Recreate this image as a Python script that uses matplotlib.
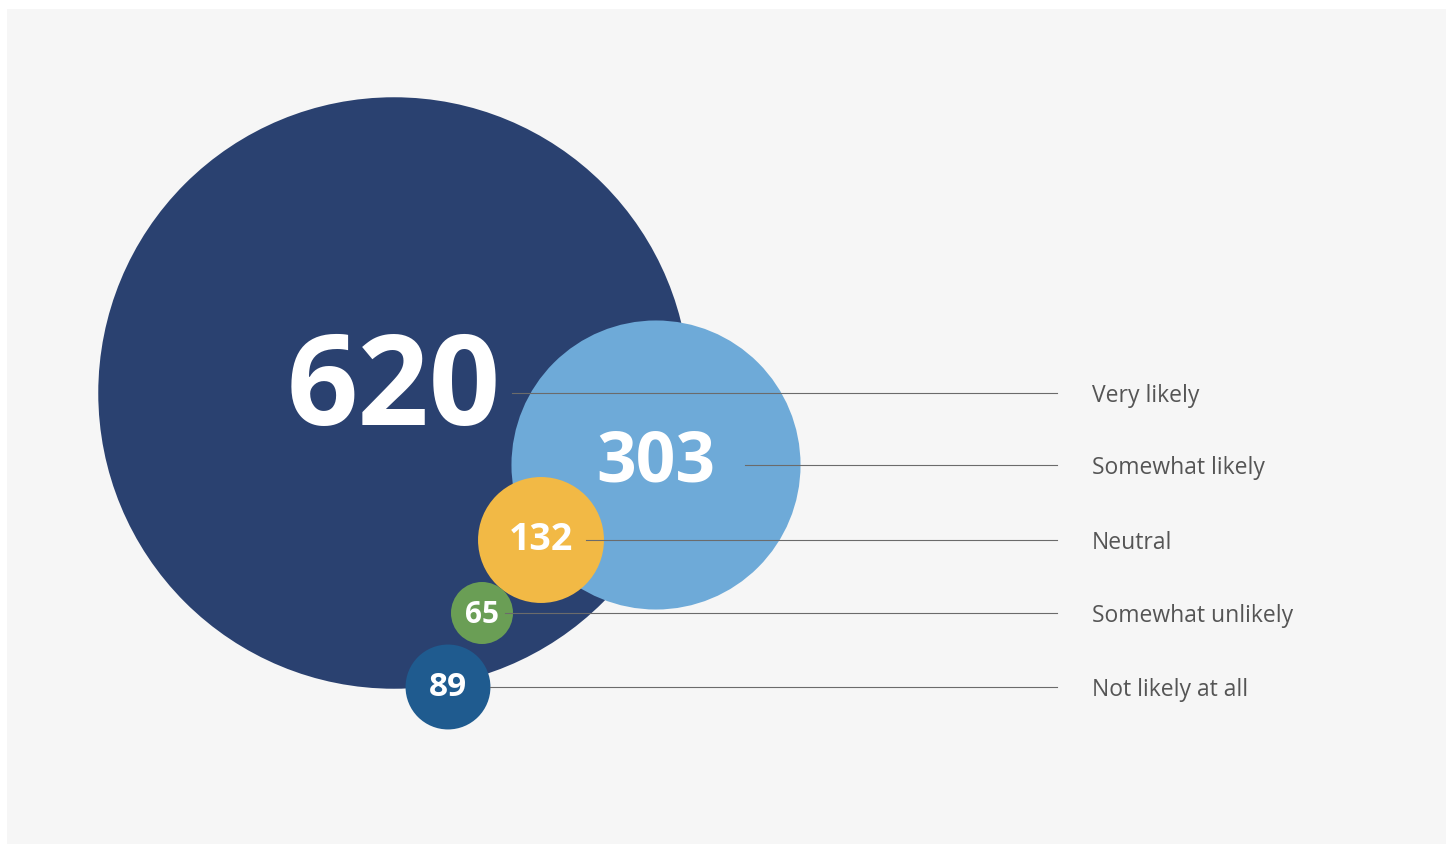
import matplotlib.pyplot as plt
from matplotlib.patches import Circle, Rectangle

labels = ["Very likely", "Somewhat likely", "Neutral", "Somewhat unlikely", "Not likely at all"]
values = [620, 303, 132, 65, 89]

# layout (pixel coordinates)
centers_x = [394, 656, 541, 482, 448]
centers_y = [393, 465, 540, 613, 687]
line_start = [512, 745, 586, 505, 490]
num_sizes = [90, 50, 27, 21.5, 24]
num_dy = [-1, -2, 0, 2, 1]
colors = ["#2a4170", "#6eaad8", "#f2b945", "#6a9e55", "#1f5b8f"]
px_per_unit = 0.477

fig = plt.figure(figsize=(14.53, 8.44), dpi=100, facecolor="white")
ax = fig.add_axes([0, 0, 1, 1])
ax.set_xlim(0, 1453)
ax.set_ylim(844, 0)
ax.set_aspect("equal")
ax.axis("off")

ax.add_patch(Rectangle((7, 9), 1439, 835, facecolor="#f6f6f6", edgecolor="none", zorder=0))

for i, v in enumerate(values):
    ax.add_patch(Circle((centers_x[i], centers_y[i]), v * px_per_unit,
                        facecolor=colors[i], edgecolor="none", zorder=1 + i))

for i, lab in enumerate(labels):
    ax.plot([line_start[i], 1057], [centers_y[i], centers_y[i]],
            color="#6b6b6b", lw=0.8, zorder=10)
    ax.text(1092, centers_y[i], lab, fontsize=16.5, family="Open Sans",
            color="#555555", ha="left", va="center_baseline", zorder=11)
    ax.text(centers_x[i], centers_y[i] + num_dy[i], str(values[i]), fontsize=num_sizes[i],
            family="Open Sans", weight="bold", color="white",
            ha="center", va="center", zorder=12)

fig.savefig("out.png", dpi=100, facecolor="white")
